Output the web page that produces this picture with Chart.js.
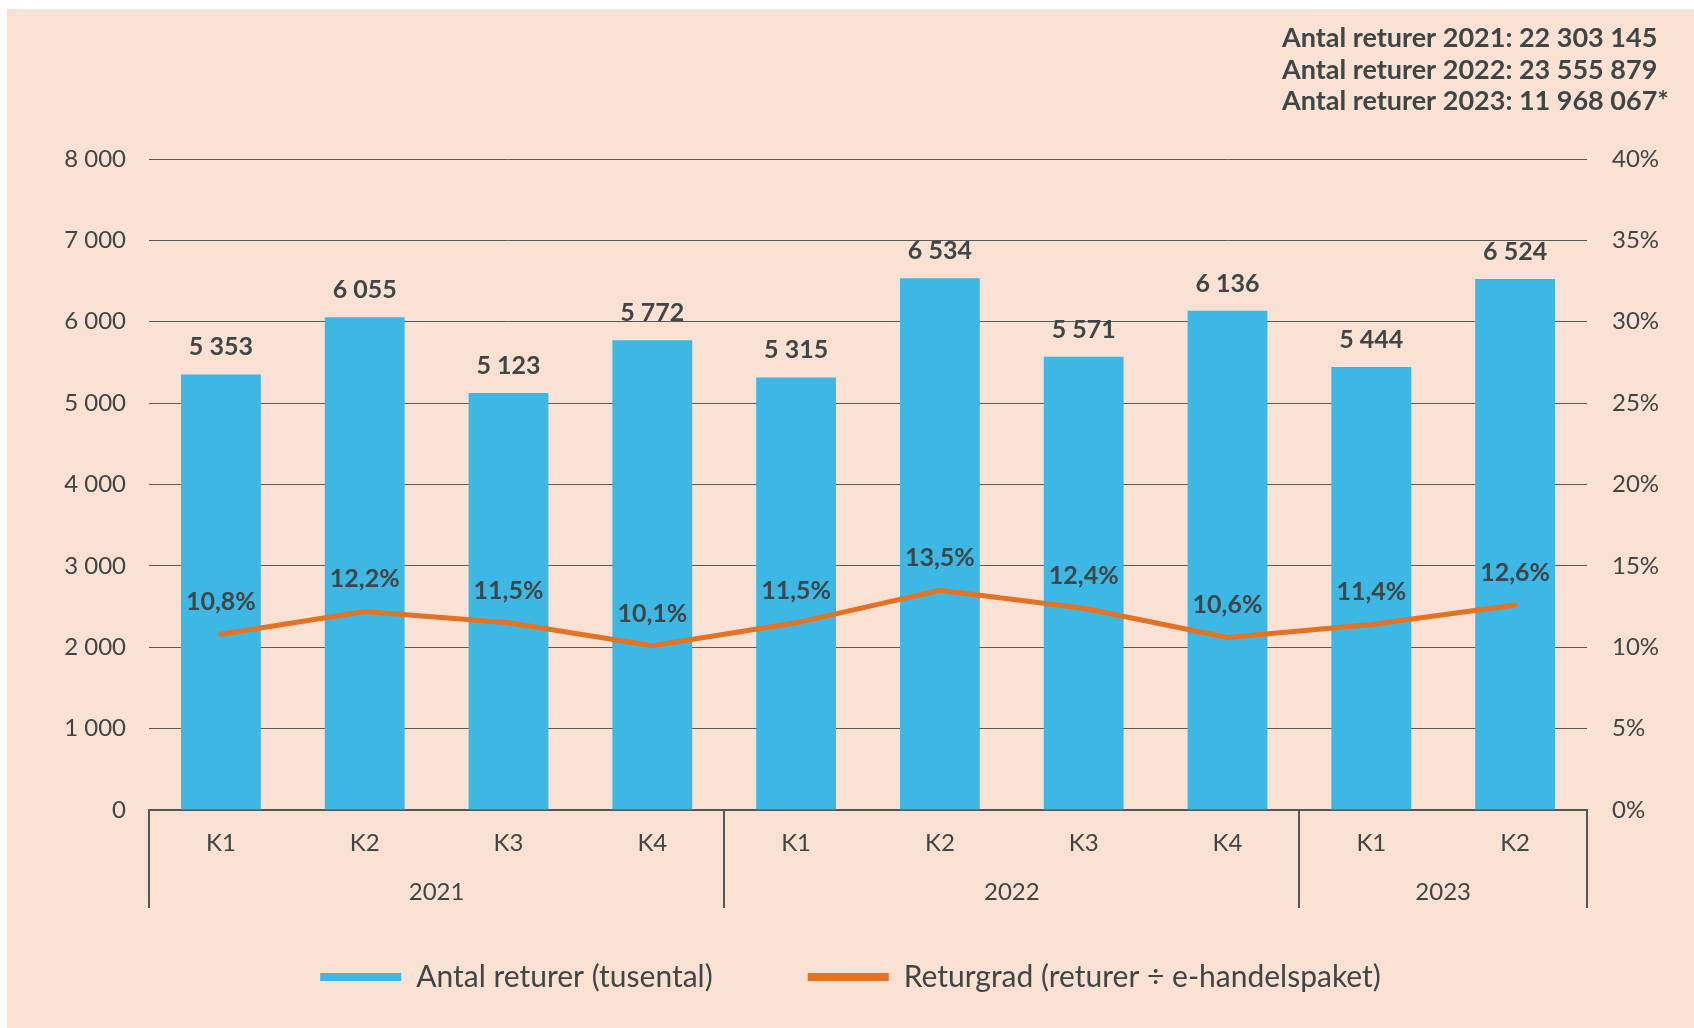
<!DOCTYPE html>
<html>
<head>
<meta charset="utf-8">
<script src="https://cdn.jsdelivr.net/npm/chart.js@4/dist/chart.umd.min.js"></script>
<style>
  body { margin: 0; background: #ffffff; }
  #wrap { position: absolute; left: 7px; top: 9px; width: 1687px; height: 1019px; background: #f9e1d3; }
</style>
</head>
<body>
<div id="wrap"><canvas id="myChart"></canvas></div>
<script>
// data
const quarters = ['K1', 'K2', 'K3', 'K4', 'K1', 'K2', 'K3', 'K4', 'K1', 'K2'];
const years = ['2021', '2022', '2023'];
const yearSizes = [4, 4, 2];
const returns = [5353, 6055, 5123, 5772, 5315, 6534, 5571, 6136, 5444, 6524];
const returnRate = [10.8, 12.2, 11.5, 10.1, 11.5, 13.5, 12.4, 10.6, 11.4, 12.6];
const summary = [
    'Antal returer 2021: 22 303 145',
    'Antal returer 2022: 23 555 879',
    'Antal returer 2023: 11 968 067*'
];

const textColor = '#404545';
const fontName = 'Lato, "Open Sans", sans-serif';

function spaced(n) {
    return String(n).replace(/\B(?=(\d{3})+(?!\d))/g, ' ');
}

//value labels, year row and summary text
const extras = {
    id: 'extras',
    afterDatasetsDraw(chart) {
        const ctx = chart.ctx;
        ctx.save();
        ctx.fillStyle = textColor;
        ctx.textAlign = 'center';
        ctx.textBaseline = 'alphabetic';
        ctx.font = 'bold 25px ' + fontName;
        chart.getDatasetMeta(0).data.forEach((bar, i) => {
            ctx.fillText(spaced(returns[i]), bar.x, bar.y - 19);
        });
        chart.getDatasetMeta(1).data.forEach((pt, i) => {
            ctx.fillText(String(returnRate[i]).replace('.', ',') + '%', pt.x, pt.y - 24);
        });
        ctx.restore();
    },
    afterDraw(chart) {
        const ctx = chart.ctx;
        const x = chart.scales.x;
        const top = x.top;
        ctx.save();
        ctx.strokeStyle = '#555';
        ctx.lineWidth = 2;
        // group separators
        let start = 0;
        const edges = [x.left];
        yearSizes.forEach(n => {
            start += n;
            if (start < quarters.length) {
                edges.push((x.getPixelForValue(start - 1) + x.getPixelForValue(start)) / 2);
            }
        });
        edges.push(x.right);
        edges.forEach(px => {
            ctx.beginPath();
            ctx.moveTo(Math.round(px), top);
            ctx.lineTo(Math.round(px), top + 98);
            ctx.stroke();
        });
        ctx.fillStyle = textColor;
        ctx.font = '24px ' + fontName;
        ctx.textAlign = 'center';
        ctx.textBaseline = 'middle';
        years.forEach((y, i) => {
            ctx.fillText(y, (edges[i] + edges[i + 1]) / 2, top + 82);
        });
        // summary top right
        ctx.font = 'bold 27px ' + fontName;
        ctx.textAlign = 'left';
        ctx.textBaseline = 'alphabetic';
        summary.forEach((s, i) => {
            ctx.fillText(s, 1275, 38 + i * 31.5);
        });
        ctx.restore();
    }
};

var ctx = document.getElementById('myChart').getContext('2d');
var myChart = new Chart(ctx, {
    type: 'bar',
    data: {
        labels: quarters,
        datasets: [{
            type: 'bar',
            label: 'Antal returer (tusental)',
            data: returns,
            backgroundColor: '#3db7e4',
            barPercentage: 0.555,
            categoryPercentage: 1,
            yAxisID: 'y',
            order: 1
        }, {
            type: 'line',
            label: 'Returgrad (returer \u00f7 e-handelspaket)',
            data: returnRate,
            borderColor: '#e37222',
            backgroundColor: '#e37222',
            borderWidth: 5,
            borderCapStyle: 'round',
            pointRadius: 0,
            tension: 0,
            yAxisID: 'y1',
            order: 0
        }]
    },
    options: {
        responsive: true,
        maintainAspectRatio: false,
        animation: false,
        layout: { padding: { top: 150, left: 0, right: 0, bottom: 26 } },
        plugins: {
            tooltip: { enabled: false },
            legend: {
                position: 'bottom',
                labels: {
                    boxWidth: 81,
                    boxHeight: 8,
                    padding: 95,
                    color: textColor,
                    font: { family: fontName, size: 30 },
                    generateLabels: (chart) => chart.data.datasets.map((ds, i) => ({
                        text: ds.label,
                        fillStyle: ds.backgroundColor,
                        strokeStyle: ds.backgroundColor,
                        lineWidth: 0,
                        fontColor: textColor,
                        datasetIndex: i
                    }))
                }
            }
        },
        scales: {
            x: {
                grid: { display: false, drawTicks: false },
                border: { display: true, color: '#555', width: 2 },
                ticks: {
                    color: textColor,
                    padding: 19,
                    font: { family: fontName, size: 24 }
                },
                afterFit: (scale) => { scale.height = 57; }
            },
            y: {
                position: 'left',
                min: 0,
                max: 8000,
                grid: { color: '#5a5a5a', lineWidth: 1, drawTicks: false },
                border: { display: false },
                ticks: {
                    stepSize: 1000,
                    padding: 23,
                    color: textColor,
                    font: { family: fontName, size: 24 },
                    callback: (v) => spaced(v)
                },
                afterFit: (scale) => { scale.width = 142; }
            },
            y1: {
                position: 'right',
                min: 0,
                max: 40,
                grid: { display: false, drawTicks: false },
                border: { display: false },
                ticks: {
                    stepSize: 5,
                    padding: 25,
                    color: textColor,
                    font: { family: fontName, size: 24 },
                    callback: (v) => v + '%'
                },
                afterFit: (scale) => { scale.width = 107; }
            }
        }
    },
    plugins: [extras]
});
</script>
</body>
</html>
